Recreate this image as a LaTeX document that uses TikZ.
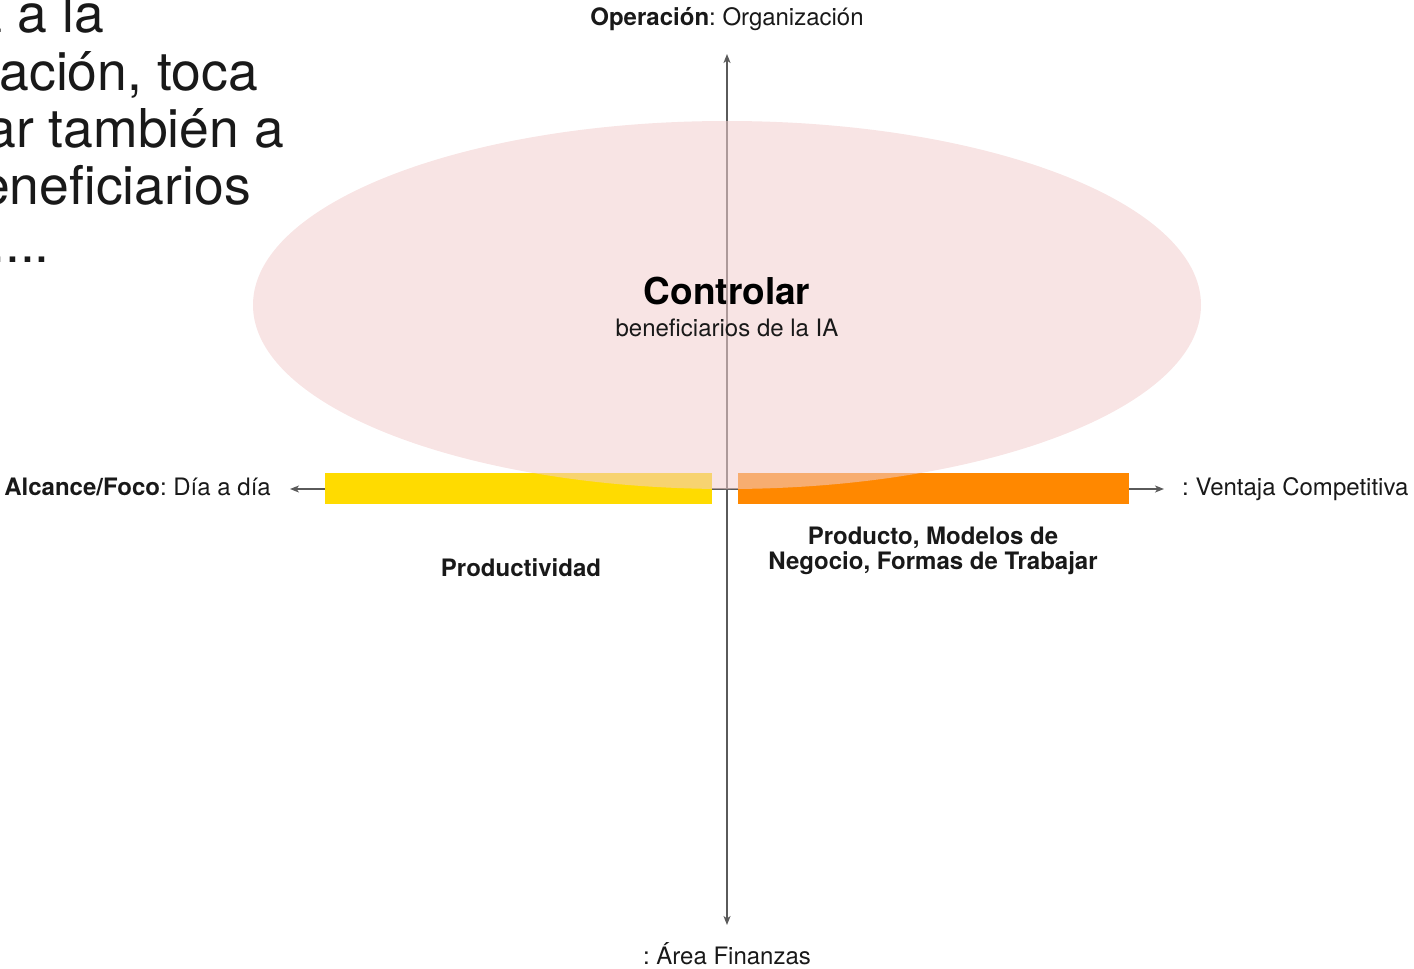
\documentclass[tikz,border=0pt]{standalone}
\usepackage{fontspec}
\setmainfont{TeX Gyre Heros}
\usetikzlibrary{arrows.meta}
\frenchspacing
\definecolor{axisgray}{RGB}{90,90,90}
\definecolor{txt}{RGB}{25,25,25}
\definecolor{ybar}{RGB}{255,219,0}
\definecolor{obar}{RGB}{255,136,0}
\definecolor{ellpink}{RGB}{242,205,205}
\tikzset{
  axisline/.style={draw=axisgray, line width=1.3pt, {Stealth[length=9pt,width=7pt,inset=2.5pt]}-{Stealth[length=9pt,width=7pt,inset=2.5pt]}},
  barbox/.style={draw=none, minimum height=31pt, inner sep=0pt},
  lbl/.style={inner sep=0pt, text=txt, font=\fontsize{24}{28}\selectfont},
  boldlbl/.style={lbl, font=\fontsize{24}{25}\selectfont\bfseries, align=center},
  bigtxt/.style={inner sep=0pt, text=txt, font=\fontsize{53.5}{57}\selectfont, anchor=base east},
  ellfill/.style={fill=ellpink, fill opacity=0.55, draw=none}
}
\begin{document}
\begin{tikzpicture}[x=1pt,y=-1pt]
\useasboundingbox (0,0) rectangle (1414,969);
% axes
\coordinate (top) at (727,54);
\coordinate (bot) at (727,925);
\coordinate (lft) at (290,489);
\coordinate (rgt) at (1164,489);
\draw[axisline] (lft) -- (rgt);
\draw[axisline] (bot) -- (top);
% bars
\node[barbox, fill=ybar, minimum width=387pt] (ybarnode) at (518.5,488.5) {};
\node[barbox, fill=obar, minimum width=391pt] (obarnode) at (933.5,488.5) {};
% ellipse
\fill[ellfill] (727,305) ellipse [x radius=474, y radius=184];
% ellipse texts
\node[inner sep=0pt, text=black, font=\fontsize{37}{40}\selectfont\bfseries, anchor=base] (ctrl) at (727,304) {Controlar};
\node[lbl, anchor=base] (benef) at (727,336) {beneficiarios de la IA};
% axis labels
\node[lbl, anchor=base] (optxt) at (727,25) {\textbf{Operación}: Organización};
\node[lbl, anchor=base east] (alctxt) at (271,495) {\textbf{Alcance/Foco}: Día a día};
\node[lbl, anchor=base west] (ventxt) at (1182,495) {: Ventaja Competitiva};
\node[lbl, anchor=base] (areatxt) at (727,964) {: Área Finanzas};
% quadrant labels
\node[boldlbl, anchor=base] (prodtxt) at (521,576) {Productividad};
\node[boldlbl, anchor=base] (modtxt) at (933,569) {Producto, Modelos de\\Negocio, Formas de Trabajar};
% cut-off text top-left
\begin{scope}
\clip (0,0) rectangle (1414,969);
\node[bigtxt] (l1) at (104,32) {a a la};
\node[bigtxt] (l2) at (258,90) {ación, toca};
\node[bigtxt] (l3) at (284,147) {ar también a};
\node[bigtxt] (l4) at (251,204) {eneficiarios};
\node[bigtxt] (l5) at (50,262) {....};
\end{scope}
\end{tikzpicture}
\end{document}
